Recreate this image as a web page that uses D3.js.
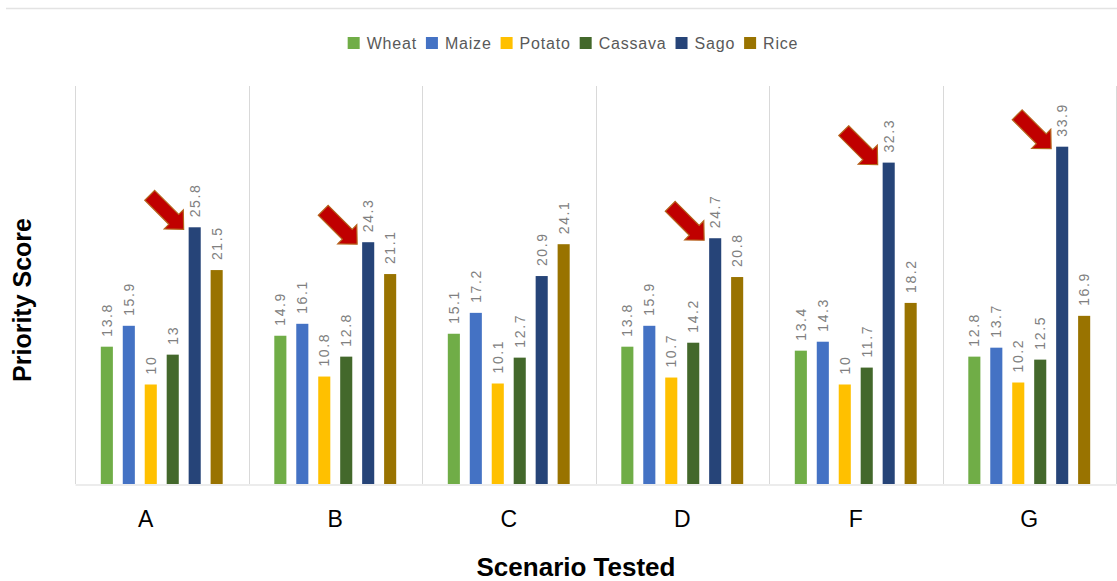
<!DOCTYPE html>
<html>
<head>
<meta charset="utf-8">
<script src="https://cdn.jsdelivr.net/npm/d3@7"></script>
<style>
  body { margin: 0; background: #fff; }
</style>
</head>
<body>
<script>
// Data
const scenarios = ["A", "B", "C", "D", "F", "G"]
const crops = ["Wheat", "Maize", "Potato", "Cassava", "Sago", "Rice"]
const wheat   = [13.8, 14.9, 15.1, 13.8, 13.4, 12.8]
const maize   = [15.9, 16.1, 17.2, 15.9, 14.3, 13.7]
const potato  = [10, 10.8, 10.1, 10.7, 10, 10.2]
const cassava = [13, 12.8, 12.7, 14.2, 11.7, 12.5]
const sago    = [25.8, 24.3, 20.9, 24.7, 32.3, 33.9]
const rice    = [21.5, 21.1, 24.1, 20.8, 18.2, 16.9]
const arrowScenarios = ["A", "B", "D", "F", "G"]

const colors = ["#70AD47", "#4472C4", "#FFC000", "#43682B", "#264478", "#997300"]
const series = [wheat, maize, potato, cassava, sago, rice]

// Build rows
const rows = []
scenarios.forEach((s, i) => {
    crops.forEach((c, j) => {
        rows.push({ scenario: s, crop: c, value: series[j][i] })
    })
})

// SVG parameters
const width = 1117
const height = 581
const margin = { top: 86, right: 1, bottom: 97, left: 75 }

let svg = d3.select("body")
    .append("svg")
    .attr("width", width)
    .attr("height", height)

// Top border line
svg.append("line")
    .attr("x1", 6).attr("x2", width)
    .attr("y1", 8.5).attr("y2", 8.5)
    .attr("stroke", "#E3E3E3")
    .attr("stroke-width", 1.5)

// Scales
let x0 = d3.scaleBand()
    .domain(scenarios)
    .range([margin.left, width - margin.right])
let x1 = d3.scaleBand()
    .domain(crops)
    .range([0, x0.bandwidth()])
    .paddingInner(0.45)
    .paddingOuter(1.175)
let yScale = d3.scaleLinear()
    .domain([0, 40])
    .range([height - margin.bottom, margin.top])
let color = d3.scaleOrdinal().domain(crops).range(colors)

// Vertical separators
const bounds = scenarios.map(s => x0(s)).concat([x0.range()[1] - 0.5])
svg.selectAll(".sep")
    .data(bounds).enter().append("line")
    .attr("class", "sep")
    .attr("x1", d => Math.round(d) + 0.5).attr("x2", d => Math.round(d) + 0.5)
    .attr("y1", yScale(40)).attr("y2", yScale(0))
    .attr("stroke", "#D9D9D9")

// X axis
let xAxis = svg.append("g")
    .attr("transform", `translate(0, ${yScale(0) + 0.5})`)
    .call(d3.axisBottom(x0).tickSize(0).tickPadding(26))
xAxis.select(".domain").attr("stroke", "#D9D9D9").attr("stroke-width", 1.2)
xAxis.selectAll("text")
    .style("font-family", "Liberation Sans, Arial, sans-serif")
    .style("font-size", "23px")
    .attr("fill", "#000")
// the first label sits a bit left of its group in the original
xAxis.selectAll(".tick text").filter(d => d === "A").attr("dx", -16)

// Bars
svg.selectAll(".bar")
    .data(rows).enter().append("rect")
    .attr("class", "bar")
    .attr("x", d => x0(d.scenario) + x1(d.crop))
    .attr("y", d => yScale(d.value))
    .attr("width", x1.bandwidth())
    .attr("height", d => yScale(0) - yScale(d.value))
    .attr("fill", d => color(d.crop))

// Value labels
svg.selectAll(".lbl")
    .data(rows).enter().append("text")
    .attr("class", "lbl")
    .attr("transform", d => `translate(${x0(d.scenario) + x1(d.crop) + x1.bandwidth() / 2}, ${yScale(d.value) - 10}) rotate(-90)`)
    .attr("text-anchor", "start")
    .attr("dominant-baseline", "central")
    .style("font-family", "Liberation Sans, Arial, sans-serif")
    .style("font-size", "14px")
    .style("letter-spacing", "1.6px")
    .attr("fill", "#808080")
    .text(d => d.value)

// Arrows pointing at Sago bars
const arrowPts = [[-48, -7], [-14, -7], [-14, -13.5], [0, 0], [-14, 13.5], [-14, 7], [-48, 7]]
const arrowRows = rows.filter(d => d.crop === "Sago" && arrowScenarios.includes(d.scenario))
svg.selectAll(".arrow")
    .data(arrowRows).enter().append("path")
    .attr("class", "arrow")
    .attr("d", "M" + arrowPts.join("L") + "Z")
    .attr("transform", d => `translate(${x0(d.scenario) + x1(d.crop) - 5}, ${yScale(d.value) + 2}) rotate(45)`)
    .attr("fill", "#C00000")
    .attr("stroke", "#B5651D")
    .attr("stroke-width", 1.2)
    .attr("stroke-linejoin", "miter")

// Legend
let legend = svg.append("g")
let lx = 0
crops.forEach((c, i) => {
    let g = legend.append("g")
    g.append("rect")
        .attr("x", lx).attr("y", -6)
        .attr("width", 12).attr("height", 12)
        .attr("fill", colors[i])
    let t = g.append("text")
        .attr("x", lx + 19).attr("y", 0)
        .attr("dominant-baseline", "central")
        .style("font-family", "Liberation Sans, Arial, sans-serif")
        .style("font-size", "16px")
        .style("letter-spacing", "0.8px")
        .attr("fill", "#595959")
        .text(c)
    lx += 19 + t.node().getComputedTextLength() + 9
})
const legendW = lx - 9
legend.attr("transform", `translate(${573 - legendW / 2}, 43)`)

// Axis titles
svg.append("text")
    .attr("x", 576)
    .attr("y", 576)
    .attr("text-anchor", "middle")
    .style("font-family", "Liberation Sans, Arial, sans-serif")
    .style("font-size", "26px")
    .style("font-weight", "bold")
    .text("Scenario Tested")

svg.append("text")
    .attr("transform", "translate(31, 300) rotate(-90)")
    .attr("text-anchor", "middle")
    .style("font-family", "Liberation Sans, Arial, sans-serif")
    .style("font-size", "25px")
    .style("font-weight", "bold")
    .text("Priority Score")
</script>
</body>
</html>
